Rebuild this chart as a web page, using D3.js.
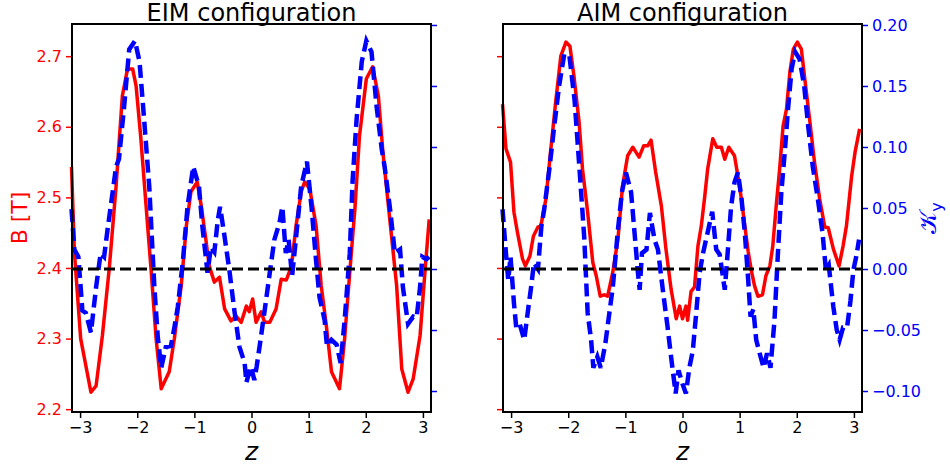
<!DOCTYPE html>
<html>
<head>
<meta charset="utf-8">
<script src="https://cdn.jsdelivr.net/npm/d3@7"></script>
<style>
  body { margin: 0; background: #fff; }
  text { font-family: "DejaVu Sans", sans-serif; }
</style>
</head>
<body>
<svg id="chart" width="950" height="467"></svg>
<script>
// tick values
const zTicks = [-3, -2, -1, 0, 1, 2, 3];
const bTicks = [2.2, 2.3, 2.4, 2.5, 2.6, 2.7];
const kTicks = [-0.10, -0.05, 0.00, 0.05, 0.10, 0.15, 0.20];

// EIM configuration: B [T]
const eimZB = [-3.15,-3.10,-2.99,-2.81,-2.72,-2.61,-2.49,-2.37,-2.26,-2.17,-2.08,-2.02,-1.94,-1.85,-1.76,-1.67,-1.58,-1.44,-1.35,-1.23,-1.14,-1.06,-0.95,-0.88,-0.80,-0.74,-0.65,-0.56,-0.47,-0.36,-0.27,-0.18,-0.09,-0.04,0.02,0.08,0.17,0.23,0.32,0.43,0.52,0.61,0.70,0.78,0.87,0.93,1.02,1.13,1.22,1.31,1.40,1.54,1.63,1.72,1.81,1.89,2.01,2.12,2.22,2.30,2.42,2.54,2.63,2.74,2.83,2.95,3.04,3.11];
const eimB = [2.543,2.423,2.300,2.224,2.233,2.304,2.399,2.516,2.644,2.682,2.682,2.658,2.587,2.493,2.400,2.300,2.229,2.253,2.300,2.375,2.460,2.508,2.522,2.488,2.441,2.403,2.380,2.387,2.342,2.325,2.332,2.323,2.346,2.338,2.356,2.323,2.338,2.323,2.323,2.342,2.384,2.383,2.403,2.460,2.508,2.522,2.512,2.460,2.375,2.318,2.253,2.229,2.300,2.394,2.484,2.587,2.668,2.685,2.644,2.564,2.469,2.375,2.257,2.224,2.243,2.304,2.399,2.469];

// EIM configuration: kappa_y
const eimZK = [-3.15,-3.10,-3.03,-2.96,-2.90,-2.81,-2.72,-2.64,-2.58,-2.52,-2.43,-2.37,-2.32,-2.23,-2.14,-2.04,-1.96,-1.88,-1.79,-1.70,-1.64,-1.58,-1.50,-1.41,-1.35,-1.29,-1.20,-1.12,-1.02,-0.92,-0.86,-0.77,-0.71,-0.65,-0.59,-0.55,-0.47,-0.39,-0.30,-0.21,-0.12,-0.09,-0.01,0.05,0.09,0.14,0.23,0.32,0.40,0.49,0.54,0.60,0.65,0.71,0.78,0.87,0.97,1.05,1.13,1.19,1.28,1.32,1.40,1.49,1.56,1.63,1.72,1.77,1.84,1.93,2.01,2.10,2.19,2.28,2.33,2.42,2.51,2.60,2.65,2.74,2.83,2.89,2.95,2.99,3.06,3.11];
const eimK = [0.049,0.016,0.010,-0.034,-0.036,-0.052,-0.015,0.013,0.010,0.032,0.063,0.084,0.090,0.133,0.180,0.187,0.170,0.123,0.068,-0.015,-0.056,-0.081,-0.064,-0.063,-0.048,-0.031,0.007,0.051,0.084,0.068,0.035,-0.003,0.018,0.014,0.040,0.051,0.026,0.000,-0.034,-0.064,-0.077,-0.093,-0.080,-0.091,-0.080,-0.064,-0.034,-0.003,0.024,0.038,0.051,0.013,0.024,-0.006,0.026,0.068,0.088,0.051,0.007,-0.023,-0.042,-0.063,-0.058,-0.062,-0.077,-0.042,0.013,0.073,0.123,0.170,0.187,0.178,0.133,0.098,0.084,0.051,0.013,0.016,-0.015,-0.045,-0.039,-0.040,-0.015,0.010,0.008,0.010];

// AIM configuration: B [T]
const aimZB = [-3.15,-3.09,-3.01,-2.95,-2.89,-2.80,-2.75,-2.67,-2.61,-2.53,-2.48,-2.39,-2.31,-2.22,-2.13,-2.04,-1.97,-1.90,-1.81,-1.75,-1.66,-1.57,-1.51,-1.44,-1.37,-1.31,-1.22,-1.13,-1.05,-0.96,-0.87,-0.76,-0.68,-0.61,-0.55,-0.47,-0.37,-0.29,-0.20,-0.11,-0.05,0.00,0.06,0.09,0.15,0.21,0.27,0.33,0.39,0.44,0.53,0.60,0.68,0.74,0.81,0.91,0.97,1.03,1.09,1.15,1.21,1.26,1.32,1.40,1.46,1.53,1.58,1.64,1.70,1.76,1.82,1.88,1.94,2.01,2.08,2.14,2.23,2.31,2.40,2.49,2.55,2.64,2.74,2.81,2.87,2.96,3.02,3.10];
const aimB = [2.632,2.569,2.550,2.479,2.451,2.413,2.403,2.417,2.445,2.458,2.459,2.498,2.564,2.635,2.700,2.720,2.714,2.672,2.607,2.540,2.479,2.408,2.389,2.360,2.362,2.360,2.394,2.441,2.516,2.559,2.571,2.557,2.573,2.573,2.581,2.536,2.488,2.427,2.370,2.328,2.346,2.328,2.346,2.326,2.367,2.373,2.431,2.460,2.502,2.540,2.583,2.571,2.571,2.554,2.571,2.559,2.530,2.498,2.460,2.423,2.394,2.375,2.360,2.362,2.389,2.403,2.431,2.488,2.540,2.601,2.625,2.678,2.710,2.720,2.710,2.668,2.607,2.550,2.498,2.458,2.457,2.427,2.403,2.431,2.460,2.530,2.564,2.597];

// AIM configuration: kappa_y
const aimZK = [-3.15,-3.09,-3.05,-3.01,-2.95,-2.91,-2.85,-2.77,-2.71,-2.65,-2.60,-2.53,-2.47,-2.42,-2.33,-2.25,-2.16,-2.07,-1.98,-1.89,-1.81,-1.72,-1.66,-1.60,-1.56,-1.49,-1.43,-1.35,-1.28,-1.22,-1.13,-1.06,-0.99,-0.90,-0.84,-0.78,-0.75,-0.71,-0.63,-0.57,-0.49,-0.43,-0.35,-0.26,-0.20,-0.12,-0.07,0.00,0.06,0.12,0.18,0.24,0.30,0.36,0.44,0.52,0.59,0.65,0.74,0.79,0.85,0.91,0.97,1.03,1.09,1.15,1.19,1.24,1.29,1.35,1.42,1.48,1.54,1.61,1.67,1.73,1.79,1.85,1.91,1.97,2.05,2.13,2.20,2.28,2.37,2.45,2.51,2.56,2.64,2.70,2.75,2.81,2.88,2.94,2.99,3.04,3.09];
const aimK = [0.049,0.013,-0.009,0.010,-0.028,-0.048,-0.045,-0.058,-0.036,-0.015,0.005,0.000,0.035,0.049,0.082,0.115,0.150,0.176,0.175,0.139,0.087,0.026,-0.036,-0.058,-0.081,-0.072,-0.081,-0.061,-0.036,-0.015,0.032,0.063,0.079,0.063,0.030,-0.003,-0.017,0.013,0.016,0.046,0.024,0.016,-0.015,-0.048,-0.072,-0.102,-0.083,-0.094,-0.102,-0.081,-0.067,-0.036,-0.003,0.013,0.030,0.047,0.016,0.012,-0.017,0.013,0.051,0.071,0.079,0.059,0.030,-0.009,-0.039,-0.033,-0.058,-0.069,-0.081,-0.069,-0.081,-0.042,0.013,0.063,0.096,0.133,0.164,0.178,0.172,0.150,0.117,0.084,0.057,0.030,-0.001,0.003,-0.031,-0.050,-0.058,-0.048,-0.048,-0.026,-0.001,0.010,0.024];

const RED = "#ff0000", BLUE = "#0000ff";
const svg = d3.select("#chart");
const plotTop = 24, plotBottom = 412;

const panels = [
  { title: "EIM configuration", left: 72, right: 431, zB: eimZB, b: eimB, zK: eimZK, k: eimK, bLabels: true, kLabels: false },
  { title: "AIM configuration", left: 503, right: 862, zB: aimZB, b: aimB, zK: aimZK, k: aimK, bLabels: false, kLabels: true }
];

panels.forEach(p => {
  const x = d3.scaleLinear().domain([-Math.PI, Math.PI]).range([p.left, p.right]);
  const yB = d3.scaleLinear().domain([2.196, 2.7456]).range([plotBottom, plotTop]);
  const yK = d3.scaleLinear().domain([-0.1172, 0.2008]).range([plotBottom, plotTop]);
  const g = svg.append("g");

  const lineB = d3.line().x((d, i) => x(p.zB[i])).y(d => yB(d));
  const lineK = d3.line().x((d, i) => x(p.zK[i])).y(d => yK(d));

  g.append("path").attr("d", lineB(p.b))
    .attr("fill", "none").attr("stroke", RED).attr("stroke-width", 3.5)
    .attr("stroke-linejoin", "round");
  g.append("path").attr("d", lineK(p.k))
    .attr("fill", "none").attr("stroke", BLUE).attr("stroke-width", 4.5)
    .attr("stroke-dasharray", "13,6");
  // zero line
  g.append("line")
    .attr("x1", p.left).attr("x2", p.right)
    .attr("y1", yK(0)).attr("y2", yK(0))
    .attr("stroke", "#000").attr("stroke-width", 3).attr("stroke-dasharray", "11,5");

  // axes
  const xAxis = g.append("g").attr("transform", `translate(0,${plotBottom})`)
    .call(d3.axisBottom(x).tickValues(zTicks).tickFormat(d3.format("d")).tickSize(6).tickPadding(4));
  const bAxis = g.append("g").attr("transform", `translate(${p.left},0)`)
    .call(d3.axisLeft(yB).tickValues(bTicks).tickFormat(p.bLabels ? d3.format(".1f") : "").tickSize(6).tickPadding(4));
  const kAxis = g.append("g").attr("transform", `translate(${p.right},0)`)
    .call(d3.axisRight(yK).tickValues(kTicks).tickFormat(p.kLabels ? d3.format(".2f") : "").tickSize(6).tickPadding(4));

  [xAxis, bAxis, kAxis].forEach(a => {
    a.select(".domain").remove();
    a.selectAll("text").style("font-size", "16px").style("font-family", "DejaVu Sans");
    a.selectAll("line").attr("stroke-width", 1.5);
  });
  xAxis.selectAll("line").attr("stroke", "#000");
  xAxis.selectAll("text").attr("fill", "#000");
  bAxis.selectAll("line").attr("stroke", RED);
  bAxis.selectAll("text").attr("fill", RED);
  kAxis.selectAll("line").attr("stroke", BLUE);
  kAxis.selectAll("text").attr("fill", BLUE);

  // frame
  g.append("rect").attr("x", p.left).attr("y", plotTop)
    .attr("width", p.right - p.left).attr("height", plotBottom - plotTop)
    .attr("fill", "none").attr("stroke", "#000").attr("stroke-width", 2);

  g.append("text").attr("x", (p.left + p.right) / 2).attr("y", 21)
    .attr("text-anchor", "middle").style("font-size", "24px").text(p.title);

  g.append("text").attr("x", (p.left + p.right) / 2).attr("y", 460)
    .attr("text-anchor", "middle").style("font-size", "25px").style("font-style", "italic")
    .text("z");
});

// y axis labels
svg.append("text")
  .attr("transform", "translate(27,218) rotate(-90)")
  .attr("text-anchor", "middle").attr("fill", RED).style("font-size", "22px")
  .text("B [T]");

const kLab = svg.append("text")
  .attr("transform", "translate(936,218) rotate(-90)")
  .attr("text-anchor", "middle").attr("fill", BLUE).style("font-size", "24px");
kLab.append("tspan").text("\u{1D4A6}");
kLab.append("tspan").attr("dy", 6).style("font-size", "16px").text("y");
</script>
</body>
</html>
